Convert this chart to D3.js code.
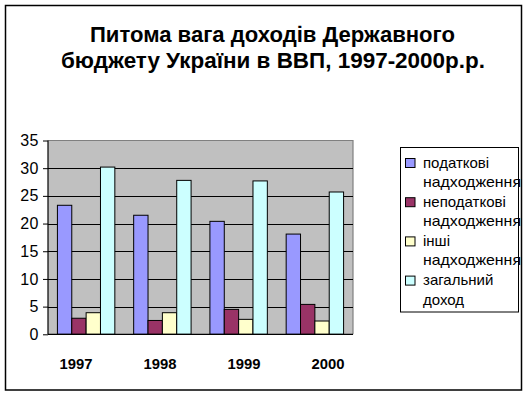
<!DOCTYPE html>
<html><head><meta charset="utf-8">
<script src="https://cdn.jsdelivr.net/npm/d3@7"></script>
<style>body{margin:0;background:#fff}svg{display:block;font-family:"Liberation Sans",Arial,sans-serif}</style>
</head><body><svg id="c" width="526" height="394"></svg>
<script>
const categories = ["1997", "1998", "1999", "2000"];
const seriesNames = ["податкові надходження", "неподаткові надходження", "інші надходження", "загальний доход"];
const taxRevenue = [23.3, 21.5, 20.4, 18.1];
const nonTaxRevenue = [2.9, 2.5, 4.5, 5.4];
const otherRevenue = [3.9, 3.9, 2.7, 2.4];
const totalRevenue = [30.2, 27.8, 27.7, 25.7];
const yTicks = [0, 5, 10, 15, 20, 25, 30, 35];
const titleLines = ["Питома вага доходів Державного", "бюджету України в ВВП, 1997-2000р.р."];
const colors = ["#9999ff", "#993366", "#ffffcc", "#ccffff"];

const series = [taxRevenue, nonTaxRevenue, otherRevenue, totalRevenue];
const svg = d3.select("#c");

// outer border
svg.append("rect").attr("x", 5.5).attr("y", 5.5).attr("width", 516).attr("height", 384.5)
  .attr("fill", "#fff").attr("stroke", "#000").attr("stroke-width", 1.5);

// title
const titleX = [272.5, 273];
const titleW = [365, 424];
const titleY = [42, 68];
titleLines.forEach((t, i) => {
  svg.append("text").attr("x", titleX[i]).attr("y", titleY[i]).attr("text-anchor", "middle")
    .attr("font-size", 22.5).attr("font-weight", "bold")
    .attr("textLength", titleW[i]).attr("lengthAdjust", "spacingAndGlyphs").text(t);
});

const L = 48, R = 353, T = 140.5, B = 334.3;
const y = d3.scaleLinear().domain([0, 35]).range([B, T]);
const x0 = d3.scaleBand().domain(categories).range([L, R]).paddingInner(0.247).paddingOuter(0.1235);
const x1 = d3.scaleBand().domain(d3.range(series.length)).range([0, x0.bandwidth()]);

// plot area
svg.append("rect").attr("x", L).attr("y", T).attr("width", R - L).attr("height", B - T).attr("fill", "#c0c0c0");
svg.append("path").attr("d", `M${L},${T}H${R}V${B}`).attr("fill", "none").attr("stroke", "#808080").attr("stroke-width", 1.2);

// gridlines
svg.append("g").selectAll("line").data(yTicks.filter(d => d > 0 && d < 35)).join("line")
  .attr("x1", L).attr("x2", R).attr("y1", d => Math.round(y(d)) + 0.5).attr("y2", d => Math.round(y(d)) + 0.5)
  .attr("stroke", "#000").attr("stroke-width", 1);

// bars
const groups = svg.append("g").selectAll("g").data(categories).join("g")
  .attr("transform", c => `translate(${x0(c)},0)`);
groups.selectAll("rect").data((c, ci) => series.map((s, si) => ({si, v: s[ci]}))).join("rect")
  .attr("x", d => x1(d.si)).attr("width", x1.bandwidth())
  .attr("y", d => y(d.v)).attr("height", d => B - y(d.v))
  .attr("fill", d => colors[d.si]).attr("stroke", "#000").attr("stroke-width", 1);

// y axis
const yAxis = d3.axisLeft(y).tickValues(yTicks).tickSize(5).tickPadding(4).tickFormat(d3.format("d"));
const ya = svg.append("g").attr("transform", `translate(${L},0)`).call(yAxis);
ya.select(".domain").attr("stroke", "#000").attr("stroke-width", 1.2).attr("d", `M0,${T}V${B}`);
ya.selectAll("text").attr("font-size", 16).attr("font-family", "Liberation Sans, Arial, sans-serif")
  .attr("fill", "#000").attr("letter-spacing", 0.5);
ya.selectAll(".tick line").attr("stroke", "#000");

// bottom axis line
svg.append("line").attr("x1", L).attr("x2", R).attr("y1", B).attr("y2", B).attr("stroke", "#000").attr("stroke-width", 1.2);

// category labels
const xLab = d3.scaleBand().domain(categories).range([34, 370]);
svg.append("g").selectAll("text").data(categories).join("text")
  .attr("x", c => xLab(c) + xLab.bandwidth() / 2).attr("y", 369).attr("text-anchor", "middle")
  .attr("font-size", 15.5).attr("font-weight", "bold")
  .attr("textLength", 33).attr("lengthAdjust", "spacingAndGlyphs").text(c => c);

// legend
svg.append("rect").attr("x", 400.5).attr("y", 147.5).attr("width", 118).attr("height", 164.5)
  .attr("fill", "#fff").attr("stroke", "#000").attr("stroke-width", 1);
const lg = svg.append("g").selectAll("g").data(seriesNames).join("g")
  .attr("transform", (d, i) => `translate(0,${i * 39.2})`);
lg.append("rect").attr("x", 405.5).attr("y", 158.5).attr("width", 9.5).attr("height", 9)
  .attr("fill", (d, i) => colors[i]).attr("stroke", "#000").attr("stroke-width", 1);
lg.each(function (d) {
  const words = d.split(" ");
  const g = d3.select(this);
  words.forEach((w, j) => {
    const t = g.append("text").attr("x", 423).attr("y", 167.5 + j * 19.6)
      .attr("font-size", 15).text(w);
    if (w === "надходження") t.attr("textLength", 98).attr("lengthAdjust", "spacingAndGlyphs");
  });
});
</script></body></html>
